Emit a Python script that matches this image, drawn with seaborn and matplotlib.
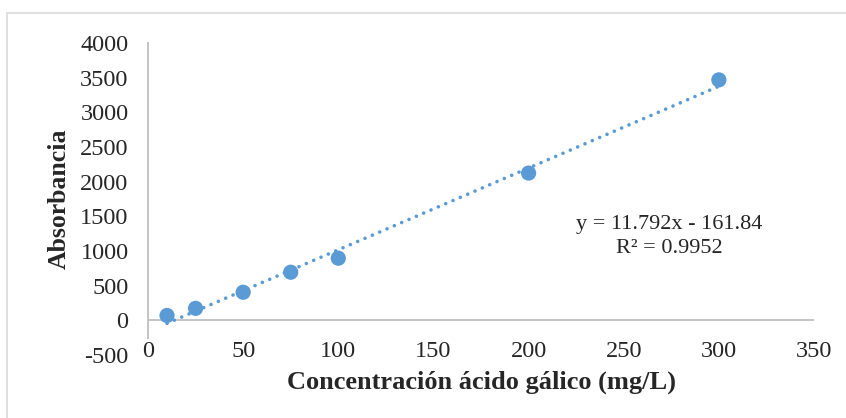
import numpy as np
import pandas as pd
import seaborn as sns
import matplotlib.pyplot as plt
from matplotlib.patches import Rectangle

# curva de calibración
concentracion = [10, 25, 50, 75, 100, 200, 300]
absorbancia = [70, 173, 405, 694, 896, 2124, 3468]
pendiente = 11.792
intercepto = -161.84
r2 = 0.9952

df = pd.DataFrame({"conc": concentracion, "abs": absorbancia})

sns.set_style("white")
plt.rcParams["font.family"] = ["Liberation Serif", "DejaVu Serif"]
plt.rcParams["axes.unicode_minus"] = False

azul = "#5B9BD5"
gris = "#BFBFBF"

fig = plt.figure(figsize=(8.46, 4.18), dpi=100)
ax = fig.add_axes([148 / 846, 63 / 418, 666 / 846, 312 / 418])

# marco del área del gráfico
fig.patches.append(Rectangle((7 / 846, -0.1), 1.2, (418 - 13) / 418 + 0.1,
                             transform=fig.transFigure, fill=False,
                             edgecolor="#D9D9D9", linewidth=1.2))

# línea de tendencia
xt = np.array([min(concentracion), max(concentracion)])
ax.plot(xt, pendiente * xt + intercepto, color=azul, linewidth=2.6,
        linestyle=(0, (0.01, 2.2)), dash_capstyle="round", zorder=2)

sns.scatterplot(data=df, x="conc", y="abs", ax=ax, color=azul, s=120,
                edgecolor="none", zorder=3)

ax.axhline(0, color=gris, linewidth=1.3, zorder=1)

ax.set_xlim(0, 350)
ax.set_ylim(-500, 4000)
ax.set_xticks(range(0, 351, 50))
ax.set_yticks(range(-500, 4001, 500))

for s in ["top", "right", "bottom"]:
    ax.spines[s].set_visible(False)
ax.spines["left"].set_color(gris)
ax.spines["left"].set_linewidth(1.3)
ax.spines["left"].set_bounds(-250, 4000)

ax.tick_params(axis="y", length=0, pad=14, labelsize=17.5)
ax.tick_params(axis="x", length=0, pad=-10, labelsize=17.5)

ax.set_xlabel("Concentración ácido gálico (mg/L)", fontsize=19,
              fontweight="bold", labelpad=6)
ax.set_ylabel("Absorbancia", fontsize=18.5, fontweight="bold", labelpad=7)

ax.text(274, 1210, f"y = {pendiente}x - {abs(intercepto)}\nR² = {r2}",
        ha="center", va="center", multialignment="center", fontsize=16,
        linespacing=1.3)

fig.savefig("out.png", dpi=100)
